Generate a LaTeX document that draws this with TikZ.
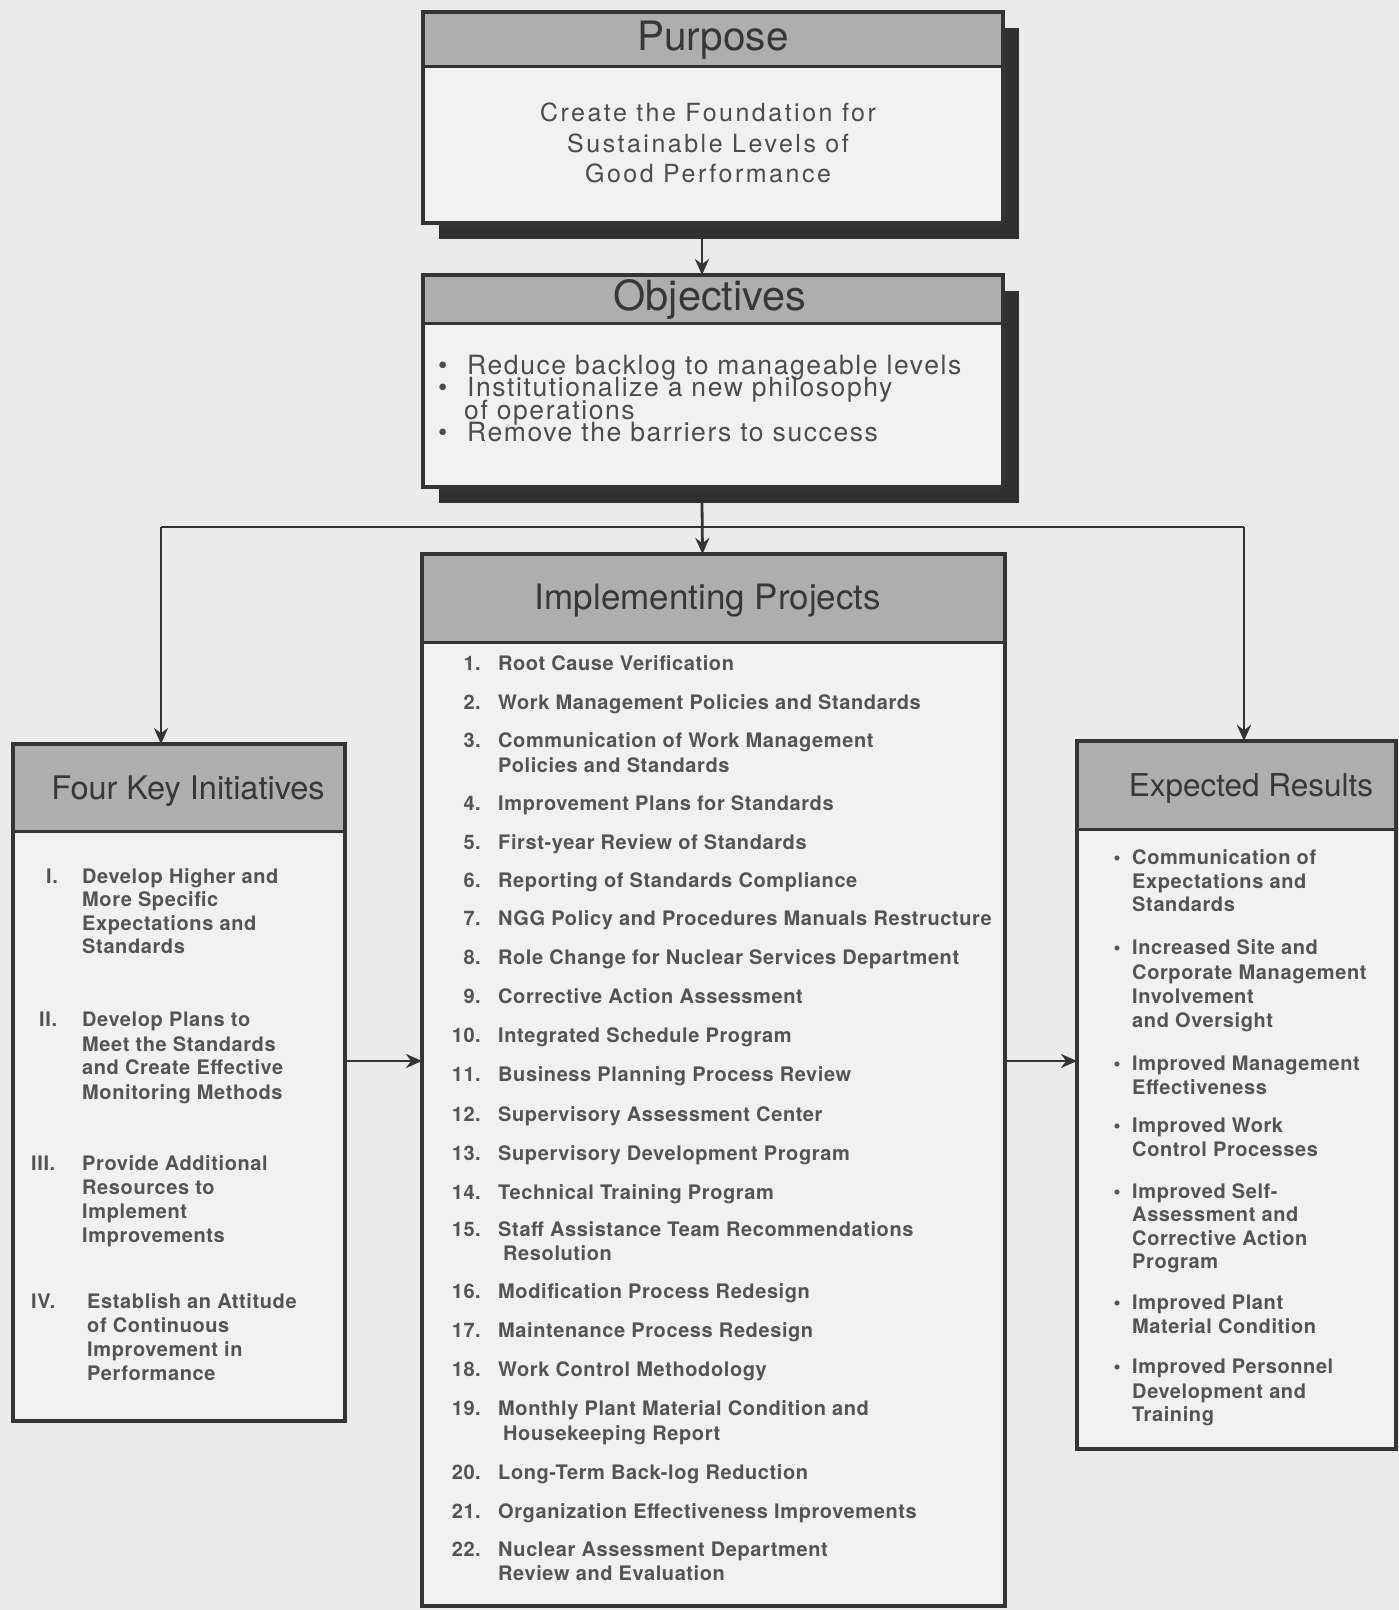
\documentclass[tikz,border=0pt]{standalone}
\usepackage{fontspec}
\setmainfont{TeX Gyre Heros}
\newfontfamily\itemfont[LetterSpace=3]{TeX Gyre Heros}
\newfontfamily\purpfont[LetterSpace=10]{TeX Gyre Heros}
\newfontfamily\objfont[LetterSpace=6]{TeX Gyre Heros}
\newcommand\objsetupfont{\objfont\fontsize{26.5}{22.3}\selectfont\lineskiplimit=-100pt\relax}
\usetikzlibrary{arrows.meta,calc}
\definecolor{bg}{RGB}{235,235,235}
\definecolor{boxbg}{RGB}{241,241,241}
\definecolor{hdr}{RGB}{174,174,174}
\definecolor{framec}{RGB}{52,52,52}
\definecolor{ink}{RGB}{84,84,84}
\definecolor{objink}{RGB}{76,76,76}
\definecolor{titleink}{RGB}{55,55,55}
\definecolor{shadowc}{RGB}{48,48,48}
\tikzset{
  boxnode/.style={draw=framec, line width=4pt, fill=boxbg, anchor=north west, inner sep=0pt, outer sep=0pt},
  hdrline/.style={draw=framec, line width=3pt},
  conn/.style={draw=framec, line width=2.8pt},
  arr/.style={conn, -{Stealth[length=16pt,width=14pt]}},
  ttl/.style={font=\fontsize{#1}{#1}\selectfont, text=titleink, inner sep=0pt, anchor=center},
  itm/.style={font=\itemfont\bfseries\fontsize{20}{24}\selectfont, text=ink, anchor=base west, inner sep=0pt},
  num/.style={font=\itemfont\bfseries\fontsize{20}{24}\selectfont, text=ink, anchor=base east, inner sep=0pt},
  purp/.style={font=\purpfont\fontsize{25}{31}\selectfont, text=objink, anchor=base, inner sep=0pt},
  objblock/.style={font=\objsetupfont, text=objink, anchor=north west, inner sep=0pt, align=left},
}
\begin{document}
\begin{tikzpicture}[x=1pt,y=-1pt]
\fill[bg] (0,0) rectangle (1399,1610);
\useasboundingbox (0,0) rectangle (1399,1610);

% ---------- Purpose ----------
\fill[shadowc] (439,28) rectangle (1019,239);
\node[boxnode, minimum width=580pt, minimum height=211pt] (purpose) at (423,12) {};
\fill[hdr] (425,14) rectangle (1001,66);
\draw[hdrline] (423,66) -- (1003,66);
\draw[framec, line width=4pt] (purpose.north west) rectangle (purpose.south east);
\node[ttl=40.5] (purposeT) at (713,40) {Purpose};
\node[purp] (pl1) at (708,121) {Create the Foundation for};
\node[purp] (pl2) at (708,152) {Sustainable Levels of};
\node[purp] (pl3) at (708,182) {Good Performance};

% ---------- Objectives ----------
\fill[shadowc] (439,291) rectangle (1019,503);
\node[boxnode, minimum width=580pt, minimum height=212pt] (objectives) at (423,275) {};
\fill[hdr] (425,277) rectangle (1001,323);
\draw[hdrline] (423,323) -- (1003,323);
\draw[framec, line width=4pt] (objectives.north west) rectangle (objectives.south east);
\node[ttl=41.5] (objectivesT) at (710,300) {Objectives};
\node[objblock] (objtext) at (438,355) {\makebox[29pt][l]{•}Reduce backlog to manageable levels\\
  \makebox[29pt][l]{•}Institutionalize a new philosophy\\
  \hspace*{26pt}of operations\\
  \makebox[29pt][l]{•}Remove the barriers to success};

% ---------- Implementing Projects ----------
\node[boxnode, minimum width=583pt, minimum height=1052pt] (impl) at (422,554) {};
\fill[hdr] (424,556) rectangle (1003,642);
\draw[hdrline] (422,642) -- (1005,642);
\draw[framec, line width=4pt] (impl.north west) rectangle (impl.south east);
\node[ttl=35] (implT) at (708,601) {Implementing Projects};

\foreach \y/\n [count=\k] in {670/1., 709/2., 747/3., 810/4., 849/5., 887/6., 925/7., 964/8., 1003/9., 1042/10., 1081/11., 1121/12., 1160/13., 1199/14., 1236/15., 1298/16., 1337/17., 1376/18., 1415/19., 1479/20., 1518/21., 1556/22.}
  \node[num] (ipn\k) at (481,\y) {\n};

\foreach \x/\y/\t [count=\k] in {
  498/670/Root Cause Verification,
  498/709/Work Management Policies and Standards,
  498/747/Communication of Work Management,
  498/772/Policies and Standards,
  498/810/Improvement Plans for Standards,
  498/849/First-year Review of Standards,
  498/887/Reporting of Standards Compliance,
  498/925/NGG Policy and Procedures Manuals Restructure,
  498/964/Role Change for Nuclear Services Department,
  498/1003/Corrective Action Assessment,
  498/1042/Integrated Schedule Program,
  498/1081/Business Planning Process Review,
  498/1121/Supervisory Assessment Center,
  498/1160/Supervisory Development Program,
  498/1199/Technical Training Program,
  498/1236/Staff Assistance Team Recommendations,
  503/1260/Resolution,
  498/1298/Modification Process Redesign,
  498/1337/Maintenance Process Redesign,
  498/1376/Work Control Methodology,
  498/1415/Monthly Plant Material Condition and,
  503/1440/Housekeeping Report,
  498/1479/Long-Term Back-log Reduction,
  498/1518/Organization Effectiveness Improvements,
  498/1556/Nuclear Assessment Department,
  498/1580/Review and Evaluation}
  \node[itm] (ipt\k) at (\x,\y) {\t};

% ---------- Four Key Initiatives ----------
\node[boxnode, minimum width=332pt, minimum height=677pt] (fourkey) at (13,744) {};
\fill[hdr] (15,746) rectangle (343,831);
\draw[hdrline] (13,831) -- (345,831);
\draw[framec, line width=4pt] (fourkey.north west) rectangle (fourkey.south east);
\node[ttl=32.5] (fourkeyT) at (188,791) {Four Key Initiatives};

\node[itm] (fkn1) at (46,883) {I.};
\node[itm] (fkn2) at (39,1026) {II.};
\node[itm] (fkn3) at (31,1170) {III.};
\node[itm] (fkn4) at (31,1308) {IV.};
\foreach \x/\y/\t [count=\k] in {
  82/883/Develop Higher and,
  82/906/More Specific,
  82/930/Expectations and,
  82/953/Standards,
  82/1026/Develop Plans to,
  82/1051/Meet the Standards,
  82/1074/and Create Effective,
  82/1099/Monitoring Methods,
  82/1170/Provide Additional,
  82/1194/Resources to,
  82/1218/Implement,
  82/1242/Improvements,
  87/1308/Establish an Attitude,
  87/1332/of Continuous,
  87/1356/Improvement in,
  87/1380/Performance}
  \node[itm] (fkt\k) at (\x,\y) {\t};

% ---------- Expected Results ----------
\node[boxnode, minimum width=319pt, minimum height=708pt] (expected) at (1077,741) {};
\fill[hdr] (1079,743) rectangle (1394,829);
\draw[hdrline] (1077,829) -- (1396,829);
\draw[framec, line width=4pt] (expected.north west) rectangle (expected.south east);
\node[ttl=31.5] (expectedT) at (1251,788) {Expected Results};

\foreach \y [count=\k] in {864,954,1070,1132,1198,1309,1373}
  \node[itm, anchor=base] (erb\k) at (1117,\y) {•};
\foreach \y/\t [count=\k] in {
  864/Communication of,
  888/Expectations and,
  911/Standards,
  954/Increased Site and,
  979/Corporate Management,
  1003/Involvement,
  1027/and Oversight,
  1070/Improved Management,
  1094/Effectiveness,
  1132/Improved Work,
  1156/Control Processes,
  1198/Improved Self-,
  1221/Assessment and,
  1245/Corrective Action,
  1268/Program,
  1309/Improved Plant,
  1333/Material Condition,
  1373/Improved Personnel,
  1398/Development and,
  1421/Training}
  \node[itm] (ert\k) at (1132,\y) {\t};

% ---------- Connectors ----------
\draw[arr] ([xshift=-11pt,yshift=-16pt]purpose.south) -- ([xshift=-11pt]objectives.north);
\draw[arr] ([xshift=-11pt,yshift=-16pt]objectives.south) -- ([xshift=-11pt]impl.north);
\coordinate (jl) at (161,527);
\coordinate (jr) at (1244,527);
\draw[conn] (jl) -- (jr);
\draw[arr] (jl) -- (jl |- fourkey.north);
\draw[arr] (jr) -- (jr |- expected.north);
\coordinate (ay) at (0,1061);
\draw[arr] (fourkey.east |- ay) -- (impl.west |- ay);
\draw[arr] (impl.east |- ay) -- (expected.west |- ay);
\end{tikzpicture}
\end{document}
